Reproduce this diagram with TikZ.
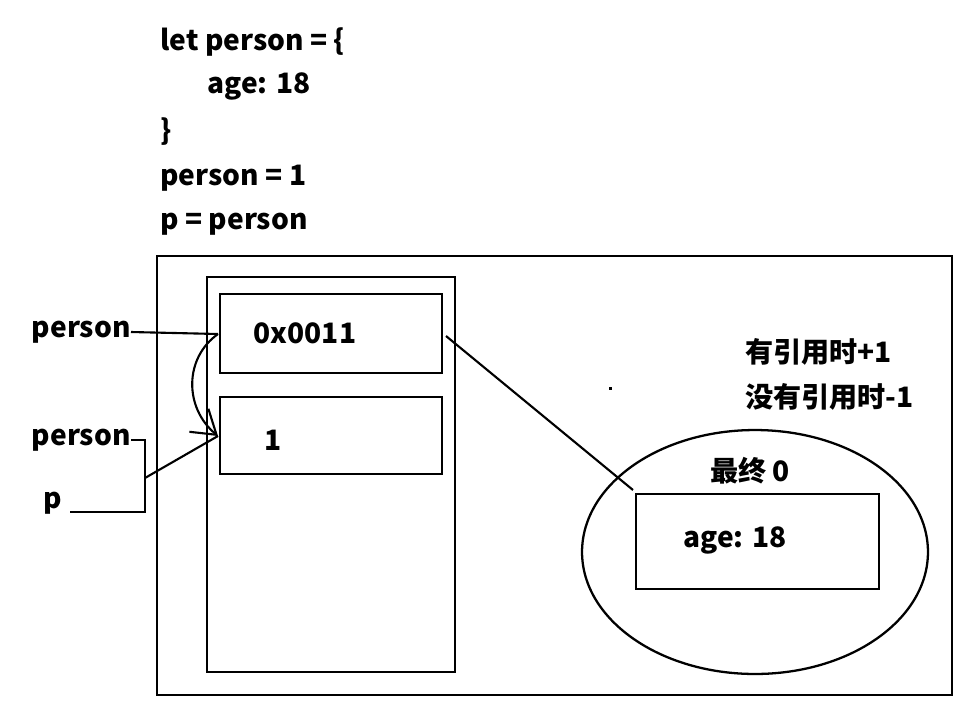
\documentclass[tikz,border=0pt]{standalone}
\usepackage{fontspec}
\setmainfont{Noto Sans CJK SC}
\usetikzlibrary{shapes.geometric,arrows.meta}

\tikzset{
  txt/.style={font=\fontsize{16}{19}\selectfont\bfseries, inner sep=0pt},
  box/.style={draw, line width=1.6pt, rectangle, inner sep=0pt},
  wire/.style={line width=1.2pt},
}

\begin{document}
\begin{tikzpicture}[x=0.02cm,y=-0.02cm]
\useasboundingbox (0,0) rectangle (970,714);

% code lines
\node[txt,anchor=west] (code1) at (160,42) {let person = \{};
\node[txt,anchor=west] (code2) at (207,86) {age: 18};
\node[txt,anchor=west] (code3) at (160,132) {\}};
\node[txt,anchor=west] (code4) at (160,178) {person = 1};
\node[txt,anchor=west] (code5) at (160,224) {p = person};

% memory
\draw[box] (157,256) rectangle (952,695);
\node[box,minimum width=4.96cm,minimum height=7.9cm] (stack) at (331,474.5) {};
\node[box,minimum width=4.44cm,minimum height=1.58cm] (box1) at (331,333.5) {};
\node[box,minimum width=4.44cm,minimum height=1.54cm] (box2) at (331,435.5) {};
\node[txt] (val1) at (305,333) {0x0011};
\node[txt] (val2) at (273,440) {1};

\node[draw,ellipse,line width=1.3pt,minimum width=6.92cm,minimum height=4.88cm] (heap) at (755,552) {};
\node[box,minimum width=4.86cm,minimum height=1.9cm] (obj) at (757.5,541.5) {};
\node[txt] (objtxt) at (735,540) {age: 18};
\node[txt] (cnt) at (750,471) {最终 0};
\node[txt,anchor=west] (rule1) at (745,352) {有引用时+1};
\node[txt,anchor=west] (rule2) at (745,397) {没有引用时-1};
\fill (609,387) rectangle (612,390);

% variables
\node[txt,anchor=east] (pA) at (131,332) {person};
\node[txt,anchor=east] (pB) at (131,440) {person};
\node[txt] (pC) at (53,503) {p};

\coordinate (a1) at (218,334);
\coordinate (a2) at (218,436);
\coordinate (b1) at (145,478);
\coordinate (k2) at (145,512);
\coordinate (c3) at (70,512);
\coordinate (d1) at (446,336);
\coordinate (d2) at (633,490);

\draw[wire] (pA.east) -- (a1);
\draw[wire,-{Straight Barb[length=13pt,width=17pt]}] (a1) .. controls (184,358) and (184,408) .. (a2);
\draw[wire] (pB.east) -| (k2) -- (c3);
\draw[wire] (b1) -- (a2);
\draw[wire] (d1) -- (d2);
\end{tikzpicture}
\end{document}
